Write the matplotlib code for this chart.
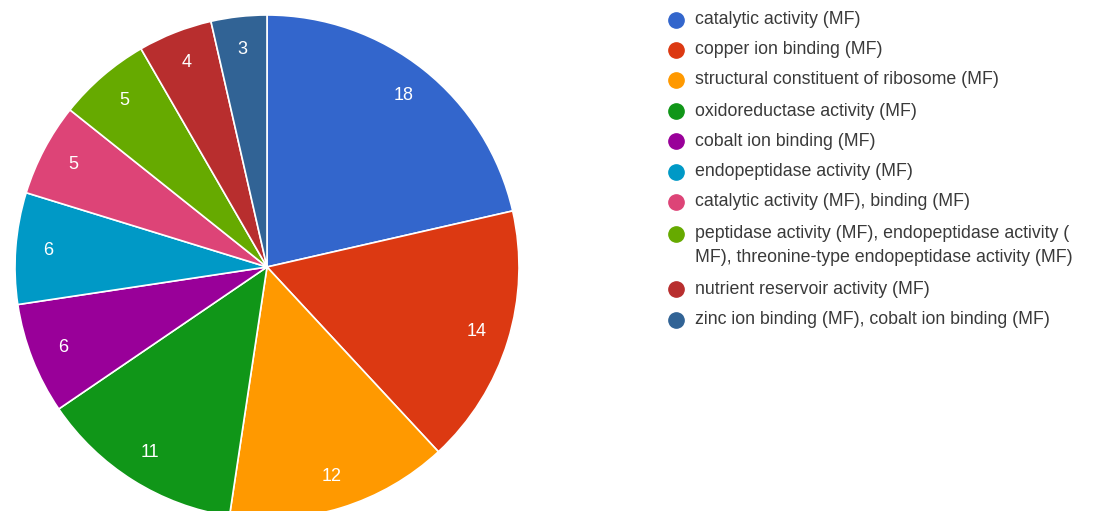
import matplotlib.pyplot as plt
from matplotlib.lines import Line2D

plt.rcParams['font.family'] = ['Liberation Sans', 'DejaVu Sans']

# Molecular-function term counts
terms = [
    "catalytic activity (MF)",
    "copper ion binding (MF)",
    "structural constituent of ribosome (MF)",
    "oxidoreductase activity (MF)",
    "cobalt ion binding (MF)",
    "endopeptidase activity (MF)",
    "catalytic activity (MF), binding (MF)",
    "peptidase activity (MF), endopeptidase activity (\nMF), threonine-type endopeptidase activity (MF)",
    "nutrient reservoir activity (MF)",
    "zinc ion binding (MF), cobalt ion binding (MF)",
]
counts = [18, 14, 12, 11, 6, 6, 5, 5, 4, 3]
colors = ["#3366cc", "#dc3912", "#ff9900", "#109618", "#990099",
          "#0099c6", "#dd4477", "#66aa00", "#b82e2e", "#316395"]

W, H = 1093, 511
fig = plt.figure(figsize=(W / 100, H / 100), dpi=100)

# pie axes: centre (267, 266) px, radius 252 px
cx, cy, r = 267, 267, 252
ax = fig.add_axes([(cx - r) / W, (H - cy - r) / H, 2 * r / W, 2 * r / H])
wedges, texts = ax.pie(
    counts, colors=colors, startangle=90, counterclock=False,
    labels=[str(c) for c in counts], labeldistance=0.87,
    wedgeprops=dict(edgecolor="white", linewidth=1.2),
    textprops=dict(color="white", fontsize=13),
)
for t in texts:
    t.set_ha("center")
    t.set_va("center")
ax.set_xlim(-1, 1)
ax.set_ylim(-1, 1)
ax.set_aspect("equal")
ax.axis("off")

# legend drawn by hand, one row per term
row_y = [20, 50, 80, 111, 141, 172, 202, 234, 289, 320]
line_gap = 23
dot_x, text_x = 676, 695
for name, col, y in zip(terms, colors, row_y):
    fig.add_artist(Line2D([dot_x / W], [1 - y / H], transform=fig.transFigure,
                          marker="o", markersize=11, color=col, linestyle=""))
    for k, line in enumerate(name.split("\n")):
        fig.text(text_x / W, 1 - (y + k * line_gap) / H, line,
                 fontsize=12.8, color="#3a3a3a", va="center")

fig.savefig("out.png", dpi=100)
